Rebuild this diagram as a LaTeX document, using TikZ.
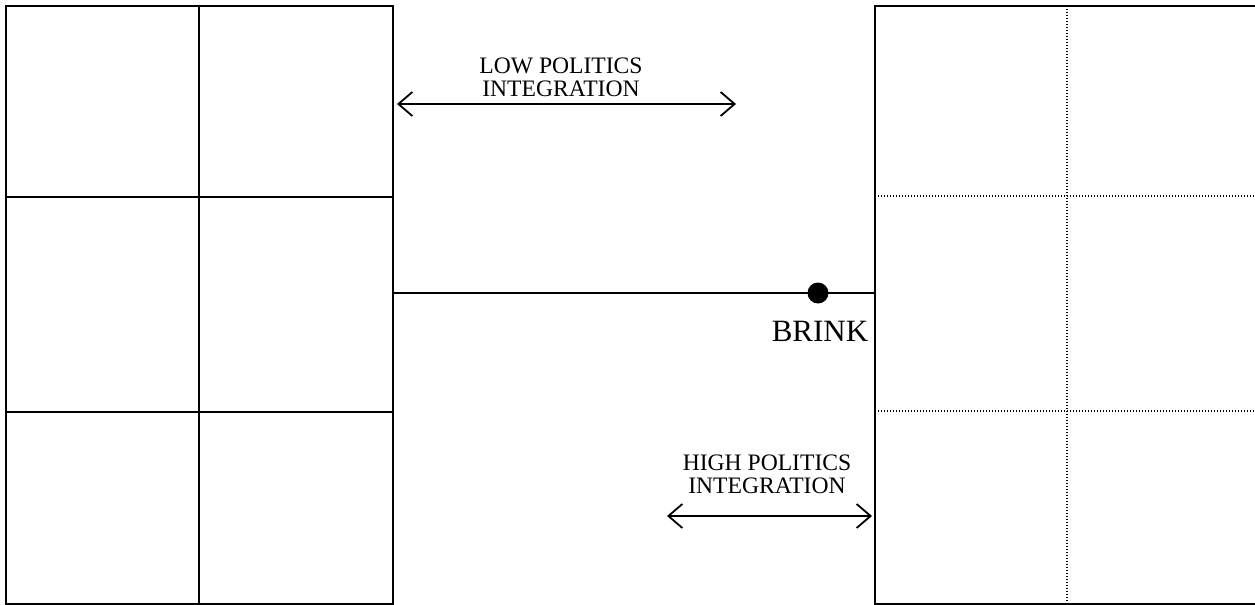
\documentclass[tikz,border=0pt]{standalone}
\usepackage{fontspec}
\setmainfont{Liberation Serif}
\usetikzlibrary{arrows.meta}
\tikzset{
  cell/.style={draw, line width=1pt},
  dotline/.style={line width=0.7pt, dash pattern=on 0.6pt off 0.9pt},
  barb/.style={{Straight Barb[length=7pt,width=12pt]}-{Straight Barb[length=7pt,width=12pt]}, line width=0.9pt},
  lbl/.style={font=\fontsize{11.8}{11.5}\selectfont, align=center, inner sep=0pt}
}

\begin{document}
\begin{tikzpicture}[x=0.5pt,y=-0.5pt]
\useasboundingbox (0,0) rectangle (1255,605);
% left box
\draw[cell] (6,6) rectangle (393,604);
\draw[cell] (199,6) -- (199,604);
\draw[cell] (6,197) -- (393,197);
\draw[cell] (6,412) -- (393,412);
\coordinate (leftmid) at (393,293);
% right box
\draw[cell] (1255,6) -| (875,604) -- (1255,604);
\draw[dotline] (1067,6) -- (1067,604);
\draw[dotline] (875,196) -- (1255,196);
\draw[dotline] (875,411) -- (1255,411);
\coordinate (rightmid) at (875,293);
% brink
\draw[line width=1pt] (leftmid) -- (rightmid);
\node[circle, fill=black, minimum size=10.5pt, inner sep=0pt] (brinkdot) at (818,293) {};
\node[font=\fontsize{15.5}{17}\selectfont, inner sep=0pt] (brink) at (820,331) {BRINK};
% arrows
\node[lbl] (low) at (561,77) {LOW POLITICS\\INTEGRATION};
\coordinate (lowa) at (397,104);
\coordinate (lowb) at (736,104);
\draw[barb] (lowa) -- (lowb);
\node[lbl] (high) at (767,474) {HIGH POLITICS\\INTEGRATION};
\coordinate (higha) at (667,516);
\coordinate (highb) at (872,516);
\draw[barb] (higha) -- (highb);
\end{tikzpicture}
\end{document}
